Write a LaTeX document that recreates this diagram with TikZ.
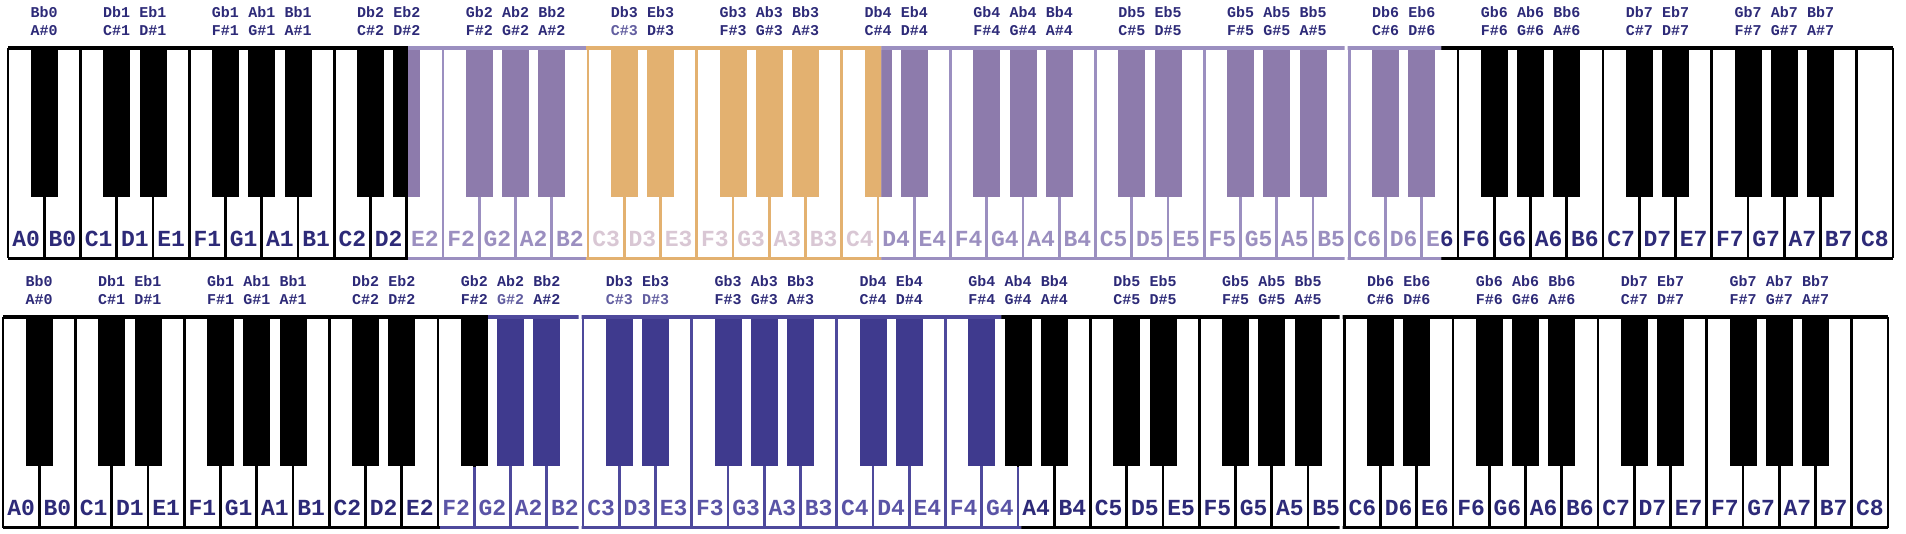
\documentclass[tikz,border=0pt]{standalone}
\usepackage{fontspec}
\setmonofont{Liberation Mono}
\definecolor{kbnavy}{RGB}{45,42,120}
\definecolor{kbfade}{RGB}{98,94,160}
\definecolor{kbpurple}{RGB}{141,123,172}
\definecolor{kbplight}{RGB}{155,143,192}
\definecolor{kborange}{RGB}{227,177,112}
\definecolor{kbolight}{RGB}{217,199,212}
\definecolor{kbblue}{RGB}{63,58,142}
\definecolor{kbbline}{RGB}{78,73,156}
\definecolor{kbblight}{RGB}{90,84,166}
\newcommand\keyw{36.25}
\newcommand\keyh{210.5}
\newcommand\keyname[1]{%
  \pgfmathtruncatemacro\kidx{mod(#1+5,7)}%
  \pgfmathtruncatemacro\oct{(#1+5)/7}%
  \edef\wl{\ifcase\kidx C\or D\or E\or F\or G\or A\or B\fi}%
  \edef\fl{\ifcase\kidx D\or E\or F\or G\or A\or B\or C\fi}}
\newcommand\pianokeys[6]{%
  \fill[white] (#2-4,#3-4) rectangle (#2+52*\keyw+4,#3+\keyh+4);
  \foreach \i in {0,...,52}
    \draw[#4,keyline] (#2+\i*\keyw,#3) -- ++(0,\keyh);
  \foreach \i in {0,...,50}{%
    \keyname{\i}%
    \ifnum\kidx=2 \else\ifnum\kidx=6 \else
      \fill[#5] (#2+\i*\keyw+\keyw-13.5,#3) rectangle ++(27,149);
    \fi\fi}
  \draw[#4,line width=3.2pt] (#2,#3) -- ++(52*\keyw,0);
  \draw[#4,line width=3.8pt] (#2,#3+\keyh) -- ++(52*\keyw,0);
  \foreach \i in {0,...,51}{%
    \keyname{\i}%
    \node[keylbl,text=#6] (#1-\wl\oct) at (#2+\i*\keyw+\keyw/2,#3+198.5) {\wl\oct};}}
\tikzset{
  keyline/.style={line width=2.6pt},
  keylbl/.style={font=\ttfamily\bfseries\fontsize{23}{23}\selectfont,inner sep=0pt,anchor=base},
  sharplbl/.style={font=\ttfamily\bfseries\fontsize{15}{15}\selectfont,inner sep=0pt,anchor=base,text=kbnavy},
  top-Cs3/.style={text=kbfade},
  bot-Gs2/.style={text=kbfade},
  bot-Cs3/.style={text=kbfade},
  bot-Ds3/.style={text=kbfade}}
\begin{document}
\begin{tikzpicture}[x=1pt,y=-1pt]
  \useasboundingbox (0,0) rectangle (1906,534);
  \pianokeys{top}{8}{48}{black}{black}{kbnavy}
  \begin{scope}
    \clip (408,30) rectangle (1441,265);
    \pianokeys{toppurple}{8}{48}{kbplight}{kbpurple}{kbplight}
  \end{scope}
  \begin{scope}
    \clip (586,30) rectangle (881,265);
    \pianokeys{toporange}{8}{48}{kborange}{kborange}{kbolight}
  \end{scope}
  \pianokeys{bot}{3}{317}{black}{black}{kbnavy}
  \begin{scope}
    \clip (440,467) rectangle (1021,534) (488,300) rectangle (1001,534);
    \pianokeys{botblue}{3}{317}{kbbline}{kbblue}{kbblight}
  \end{scope}
  \foreach \x/\y in {1344.5/48,578.5/317,1339.5/317}
    \fill[white] (\x,\y-3) rectangle ++(3,6) (\x,\y+\keyh-3) rectangle ++(3,6);
  \foreach \kb/\x/\y in {top/8/48,bot/3/317}
    \foreach \i in {0,...,50}{
      \keyname{\i}
      \ifnum\kidx=2 \else\ifnum\kidx=6 \else
        \node[sharplbl] (\kb-\fl b\oct) at (\x+\i*\keyw+\keyw,\y-30.5) {\fl b\oct};
        \node[sharplbl,\kb-\wl s\oct/.try] (\kb-\wl s\oct) at (\x+\i*\keyw+\keyw,\y-12.7) {\wl\#\oct};
      \fi\fi}
\end{tikzpicture}
\end{document}
